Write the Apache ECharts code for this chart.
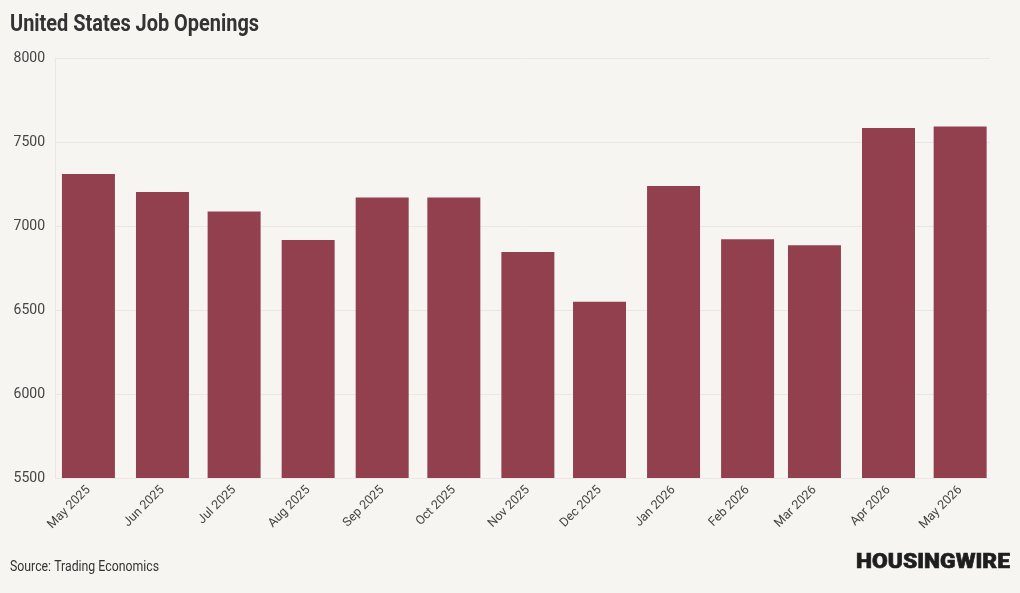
<!DOCTYPE html>
<html lang="en">
<head>
    <meta charset="UTF-8">
    <title>United States Job Openings</title>
    <script src="https://cdn.jsdelivr.net/npm/echarts@6/dist/echarts.min.js"></script>
    <style>
        html, body {
            margin: 0;
            padding: 0;
            background-color: #f7f5f2;
        }
        #chart {
            width: 1020px;
            height: 593px;
        }
    </style>
</head>
<body>
    <div id="chart"></div>

    <script>
        // monthly data (first day of each month, UTC)
        const months = [
            '2025-05', '2025-06', '2025-07', '2025-08', '2025-09', '2025-10', '2025-11',
            '2025-12', '2026-01', '2026-02', '2026-03', '2026-04', '2026-05'
        ];
        const openings = [7310, 7202, 7087, 6917, 7169, 7169, 6845, 6549, 7238, 6921, 6885, 7583, 7593];
        const yTicks = [5500, 6000, 6500, 7000, 7500, 8000];
        const monthNames = ['Jan', 'Feb', 'Mar', 'Apr', 'May', 'Jun', 'Jul', 'Aug', 'Sep', 'Oct', 'Nov', 'Dec'];

        const DAY = 24 * 3600 * 1000;
        const toTime = m => {
            const [y, mo] = m.split('-').map(Number);
            return Date.UTC(y, mo - 1, 1);
        };
        const times = months.map(toTime);

        const chart = echarts.init(document.getElementById('chart'));

        const option = {
            backgroundColor: '#f7f5f2',
            textStyle: {
                fontFamily: 'Roboto, sans-serif'
            },
            // title, source and logo as graphic text so they can be narrowed/widened
            graphic: [
                {
                    type: 'text',
                    x: 10,
                    y: 25,
                    scaleX: 0.83,
                    style: {
                        text: 'United States Job Openings',
                        fontFamily: 'Roboto, sans-serif',
                        fontSize: 24,
                        fontWeight: 'bold',
                        fill: '#333333',
                        verticalAlign: 'middle'
                    }
                },
                {
                    type: 'text',
                    x: 10,
                    y: 567,
                    scaleX: 0.82,
                    style: {
                        text: 'Source: Trading Economics',
                        fontFamily: 'Roboto, sans-serif',
                        fontSize: 15,
                        fill: '#333333',
                        verticalAlign: 'middle'
                    }
                },
                {
                    type: 'text',
                    x: 1010,
                    y: 563,
                    scaleX: 1.14,
                    style: {
                        text: 'HOUSINGWIRE',
                        fontFamily: 'Roboto, sans-serif',
                        fontSize: 20,
                        fontWeight: 900,
                        fill: '#1e1e1e',
                        stroke: '#1e1e1e',
                        lineWidth: 0.6,
                        align: 'right',
                        verticalAlign: 'middle'
                    }
                }
            ],
            grid: {
                left: 55,
                right: 30,
                top: 58,
                bottom: 115
            },
            xAxis: {
                type: 'value',
                min: times[0] - 14 * DAY,
                max: times[times.length - 1] + 12.5 * DAY,
                axisLine: { show: false },
                axisTick: { show: false },
                splitLine: { show: false },
                axisLabel: {
                    customValues: times,
                    rotate: 45,
                    margin: 10,
                    fontSize: 12.5,
                    color: '#444444',
                    hideOverlap: false,
                    formatter: function (v) {
                        const d = new Date(v);
                        return monthNames[d.getUTCMonth()] + ' ' + d.getUTCFullYear();
                    }
                }
            },
            yAxis: {
                type: 'value',
                min: yTicks[0],
                max: yTicks[yTicks.length - 1],
                interval: 500,
                axisLine: {
                    show: true,
                    lineStyle: { color: '#ebe8e4' }
                },
                axisTick: { show: false },
                splitLine: {
                    lineStyle: { color: '#ebe8e4', width: 1 }
                },
                axisLabel: {
                    fontSize: 14,
                    color: '#444444',
                    margin: 10,
                    formatter: v => String(v)
                }
            },
            series: [
                {
                    type: 'bar',
                    data: times.map((t, i) => [t, openings[i]]),
                    barWidth: 53,
                    itemStyle: {
                        color: '#93404e'
                    }
                }
            ]
        };

        chart.setOption(option);
    </script>
</body>
</html>
